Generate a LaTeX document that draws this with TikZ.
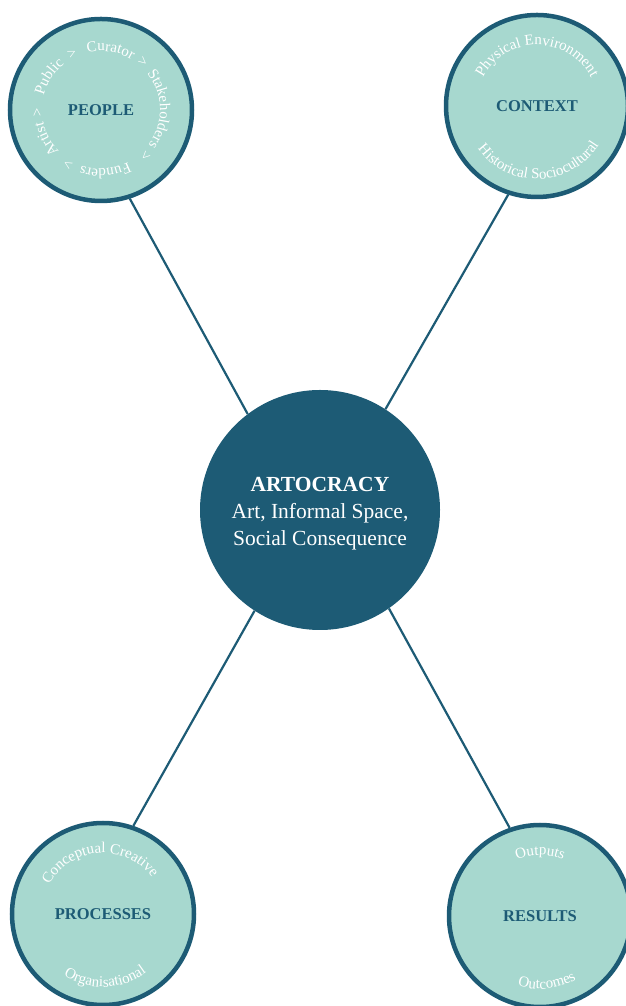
\documentclass[tikz,border=0pt]{standalone}
\usepackage{fontspec}
\setmainfont{Liberation Serif}
\usetikzlibrary{decorations.text}

\definecolor{deepteal}{HTML}{1D5B75}
\definecolor{mint}{HTML}{A7D8CF}

\newcommand{\ringfont}{\fontsize{15}{16}\selectfont\color{white}}

\begin{document}
\begin{tikzpicture}[x = 1pt, y = 1pt,
	hub/.style = {circle, fill = deepteal, minimum size = 240pt, inner sep = 0pt},
	hubtext/.style = {text = white, align = center, inner sep = 0pt, font = \fontsize{21.5}{27}\selectfont},
	topic/.style = {circle, draw = deepteal, line width = 4.5pt, fill = mint, text = deepteal, minimum size = 182pt, inner sep = 0pt, font = \fontsize{16.5}{18}\selectfont\bfseries},
	spoke/.style = {draw = deepteal, line width = 2.2pt}]

	\useasboundingbox (0, 0) rectangle (625, 1006);

	% Definitions
	
	\def\Rp{59}		% Radius of the people ring
	\def\Rt{61}		% Radius of upper ring texts
	\def\Rb{73}		% Radius of lower ring texts
	
	% Centre and topics
	
	\node [hub] (art) at (320, 496) {};
	\node [hubtext] (art text) at ([yshift = -4pt] art.center) {\textbf{ARTOCRACY}\\Art, Informal Space,\\Social Consequence};
	
	\node [topic] (people) at (101, 896) {PEOPLE};
	\node [topic] (context) at (537, 900) {CONTEXT};
	\node [topic] (processes) at (103, 92) {PROCESSES};
	\node [topic] (results) at (540, 90) {RESULTS};
	
	% Spokes
	
	\draw [spoke] (people.-72) -- (art.127);
	\draw [spoke] (context.252) -- (art.57);
	\draw [spoke] (processes.71) -- (art.237);
	\draw [spoke] (results.109) -- (art.-55);
	
	% People ring, read clockwise
	
	\foreach \a/\t in {208/Artist, 182/>, 147/Public, 117/>, 81/Curator, 49/>, 1/Stakeholders, -46/>, -86/Funders, -121/>}
		\path [decorate, decoration = {text along path, text align = center, text/.expanded = {|\noexpand\ringfont|\t}}]
			(people.center) ++({\a + 85}:\Rp) arc [start angle = \a + 85, end angle = \a - 85, radius = \Rp];
	
	% Upper ring texts
	
	\foreach \n/\a/\t in {context/90/Physical Environment, processes/94/Conceptual Creative, results/90/Outputs}
		\path [decorate, decoration = {text along path, text align = center, text/.expanded = {|\noexpand\ringfont|\t}}]
			(\n.center) ++({\a + 85}:\Rt) arc [start angle = \a + 85, end angle = \a - 85, radius = \Rt];
	
	% Lower ring texts
	
	\foreach \n/\a/\t in {context/272/Historical Sociocultural, processes/272/Organisational, results/276/Outcomes}
		\path [decorate, decoration = {text along path, text align = center, text/.expanded = {|\noexpand\ringfont|\t}}]
			(\n.center) ++({\a - 85}:\Rb) arc [start angle = \a - 85, end angle = \a + 85, radius = \Rb];
	
\end{tikzpicture}
\end{document}
